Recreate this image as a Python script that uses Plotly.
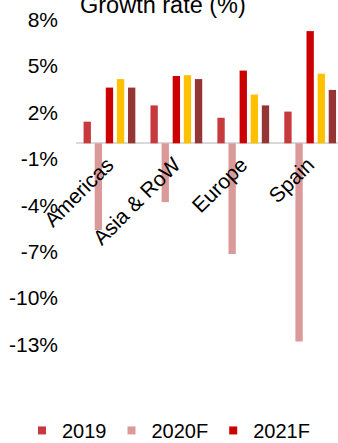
import plotly.graph_objects as go

categories = ["Americas", "Asia & RoW", "Europe", "Spain"]
series_names = ["2019", "2020F", "2021F", "2022F", "2023F"]
v2019 = [1.4, 2.45, 1.65, 2.05]
v2020 = [-5.6, -3.8, -7.15, -12.8]
v2021 = [3.6, 4.35, 4.7, 7.25]
v2022 = [4.15, 4.4, 3.15, 4.5]
v2023 = [3.6, 4.15, 2.45, 3.45]
colors = ["#C8393E", "#DB9A9A", "#CC0000", "#FFC000", "#963634"]
in_legend = [True, True, True, False, False]
tick_vals = [8, 5, 2, -1, -4, -7, -10, -13]
tick_text = ["8%", "5%", "2%", "-1%", "-4%", "-7%", "-10%", "-13%"]

FONT = "Liberation Sans, Arial, sans-serif"

fig = go.Figure()
for name, vals, col, leg in zip(series_names, [v2019, v2020, v2021, v2022, v2023], colors, in_legend):
    fig.add_trace(go.Bar(x=categories, y=vals, name=name, marker_color=col,
                         marker_line_width=0, showlegend=False, legendgroup=name))
    if leg:
        # legend entry with a smaller square swatch
        fig.add_trace(go.Scatter(x=[None], y=[None], mode="markers", name=name,
                                 legendgroup=name,
                                 marker=dict(symbol="square", size=8, color=col),
                                 showlegend=True))

fig.update_layout(
    width=338, height=443,
    margin=dict(l=76, r=0, t=4, b=51.5, autoexpand=False),
    paper_bgcolor="white", plot_bgcolor="white",
    barmode="group", bargap=0.17, bargroupgap=0.34,
    font=dict(family=FONT, size=20, color="#000000"),
    showlegend=True,
    legend=dict(orientation="h", x=(22 - 76) / 262, y=(391.5 - 431) / 387.5,
                xanchor="left", yanchor="middle",
                font=dict(size=20), bgcolor="rgba(0,0,0,0)"),
    title=dict(text="Growth rate (%)", x=80/338, xanchor="left", xref="container",
               y=0.99, yanchor="middle", yref="container",
               font=dict(size=23.5, color="#000000")),
)
fig.update_xaxes(range=[-0.5, 3.416], anchor="free", position=0.64,
                 tickangle=-45, showline=False, showgrid=False, ticks="",
                 ticklabelstandoff=4, ticklabelshift=-2, automargin=False,
                 tickfont=dict(size=21))
fig.update_yaxes(range=[-16, 9], tickvals=tick_vals, ticktext=tick_text,
                 showgrid=False, showline=False, zeroline=True, automargin=False,
                 zerolinecolor="#D9D9D9", zerolinewidth=2,
                 ticks="", ticklabelstandoff=17, tickfont=dict(size=21))

fig.write_html("out.html")
